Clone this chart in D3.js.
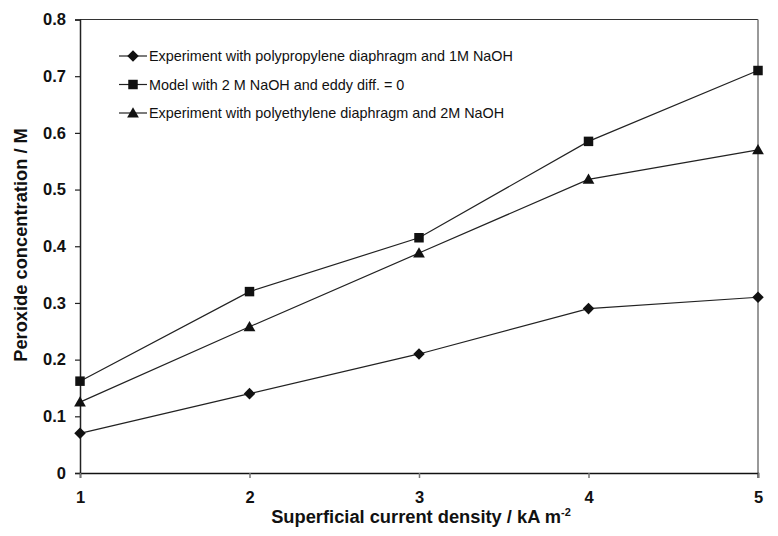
<!DOCTYPE html>
<html lang="en">
<head>
<meta charset="UTF-8">
<title>Peroxide concentration</title>
<script src="https://cdn.jsdelivr.net/npm/d3@7"></script>
<style>
    body { margin: 0; background: #fff; }
    text { font-family: "Liberation Sans", Arial, sans-serif; }
</style>
</head>
<body>
<svg id="chart" width="778" height="536"></svg>
<script>
    // current density (kA m-2)
    const currents = [1, 2, 3, 4, 5];
    // peroxide concentration (M)
    const ppDiaphragm1M = [0.07, 0.14, 0.21, 0.29, 0.31];
    const model2M = [0.162, 0.32, 0.415, 0.585, 0.71];
    const peDiaphragm2M = [0.125, 0.258, 0.388, 0.518, 0.57];
    const yTicks = [0, 0.1, 0.2, 0.3, 0.4, 0.5, 0.6, 0.7, 0.8];

    const series = [
        {name: 'Experiment with polypropylene diaphragm and 1M NaOH', values: ppDiaphragm1M, sym: 'diamond'},
        {name: 'Model with 2 M NaOH and eddy diff. = 0', values: model2M, sym: 'square'},
        {name: 'Experiment with polyethylene diaphragm and 2M NaOH', values: peDiaphragm2M, sym: 'triangle'}
    ];

    const svg = d3.select('#chart');
    const m = {left: 80, right: 758, top: 19.5, bottom: 473};
    const font = '"Liberation Sans", Arial, sans-serif';

    const x = d3.scaleLinear().domain([1, 5]).range([m.left, m.right]);
    const y = d3.scaleLinear().domain([0, 0.8]).range([m.bottom, m.top]);

    const symbols = {
        diamond: d3.symbol().type(d3.symbolDiamond2).size(85),
        square: d3.symbol().type(d3.symbolSquare).size(90),
        triangle: d3.symbol().type(d3.symbolTriangle).size(60)
    };

    // frame: top dark, right in grey
    svg.append('line').attr('x1', m.left).attr('x2', m.right).attr('y1', m.top).attr('y2', m.top)
        .attr('stroke', '#333').attr('stroke-width', 1.2);
    svg.append('line').attr('x1', m.right).attr('x2', m.right).attr('y1', m.top).attr('y2', m.bottom + 5)
        .attr('stroke', '#777').attr('stroke-width', 1.5);

    // y axis
    const yAxis = d3.axisLeft(y).tickValues(yTicks)
        .tickFormat(d => d === 0 ? '0' : d3.format('.1f')(d)).tickSize(5).tickPadding(9);
    const gy = svg.append('g').attr('transform', `translate(${m.left},0)`).call(yAxis);
    gy.select('.domain').attr('stroke', '#222').attr('stroke-width', 1.5);
    gy.selectAll('.tick line').attr('stroke', '#222').attr('stroke-width', 1.2);
    gy.selectAll('.tick text').attr('font-size', 16.5).attr('font-weight', 'bold').attr('fill', '#111')
        .attr('font-family', font);

    // x axis
    const xAxis = d3.axisBottom(x).tickValues(currents).tickFormat(d3.format('d')).tickSize(5).tickPadding(13);
    const gx = svg.append('g').attr('transform', `translate(0,${m.bottom})`).call(xAxis);
    gx.select('.domain').attr('stroke', '#111').attr('stroke-width', 1.5);
    gx.selectAll('.tick line').attr('stroke', '#777').attr('stroke-width', 1.5);
    gx.selectAll('.tick text').attr('font-size', 16.5).attr('font-weight', 'bold').attr('fill', '#111')
        .attr('font-family', font);

    // series
    const line = d3.line().x((d, i) => x(currents[i])).y(d => y(d));
    series.forEach(s => {
        svg.append('path').datum(s.values).attr('d', line)
            .attr('fill', 'none').attr('stroke', '#222').attr('stroke-width', 1.2);
        svg.selectAll(null).data(s.values).enter().append('path')
            .attr('d', symbols[s.sym])
            .attr('transform', (d, i) => `translate(${x(currents[i])},${y(d) + (s.sym === 'triangle' ? 1 : 0)})`)
            .attr('fill', '#111');
    });

    // legend
    const leg = svg.append('g');
    series.forEach((s, i) => {
        const ly = 56 + i * 28.5;
        leg.append('line').attr('x1', 119).attr('x2', 147).attr('y1', ly).attr('y2', ly)
            .attr('stroke', '#222').attr('stroke-width', 1.2);
        leg.append('path').attr('d', symbols[s.sym])
            .attr('transform', `translate(133,${ly + (s.sym === 'triangle' ? 1 : 0)})`).attr('fill', '#111');
        leg.append('text').attr('x', 149).attr('y', ly + 5).attr('font-size', 14.4).attr('fill', '#111')
            .text(s.name);
    });

    // axis titles
    const xt = svg.append('text').attr('x', 421).attr('y', 523).attr('text-anchor', 'middle')
        .attr('font-size', 18.3).attr('font-weight', 'bold').attr('fill', '#111');
    xt.append('tspan').text('Superficial current density / kA m');
    xt.append('tspan').attr('dy', -7).attr('font-size', 11).text('-2');

    svg.append('text').attr('transform', 'translate(27,245) rotate(-90)').attr('text-anchor', 'middle')
        .attr('font-size', 18.3).attr('font-weight', 'bold').attr('fill', '#111')
        .text('Peroxide concentration / M');
</script>
</body>
</html>
